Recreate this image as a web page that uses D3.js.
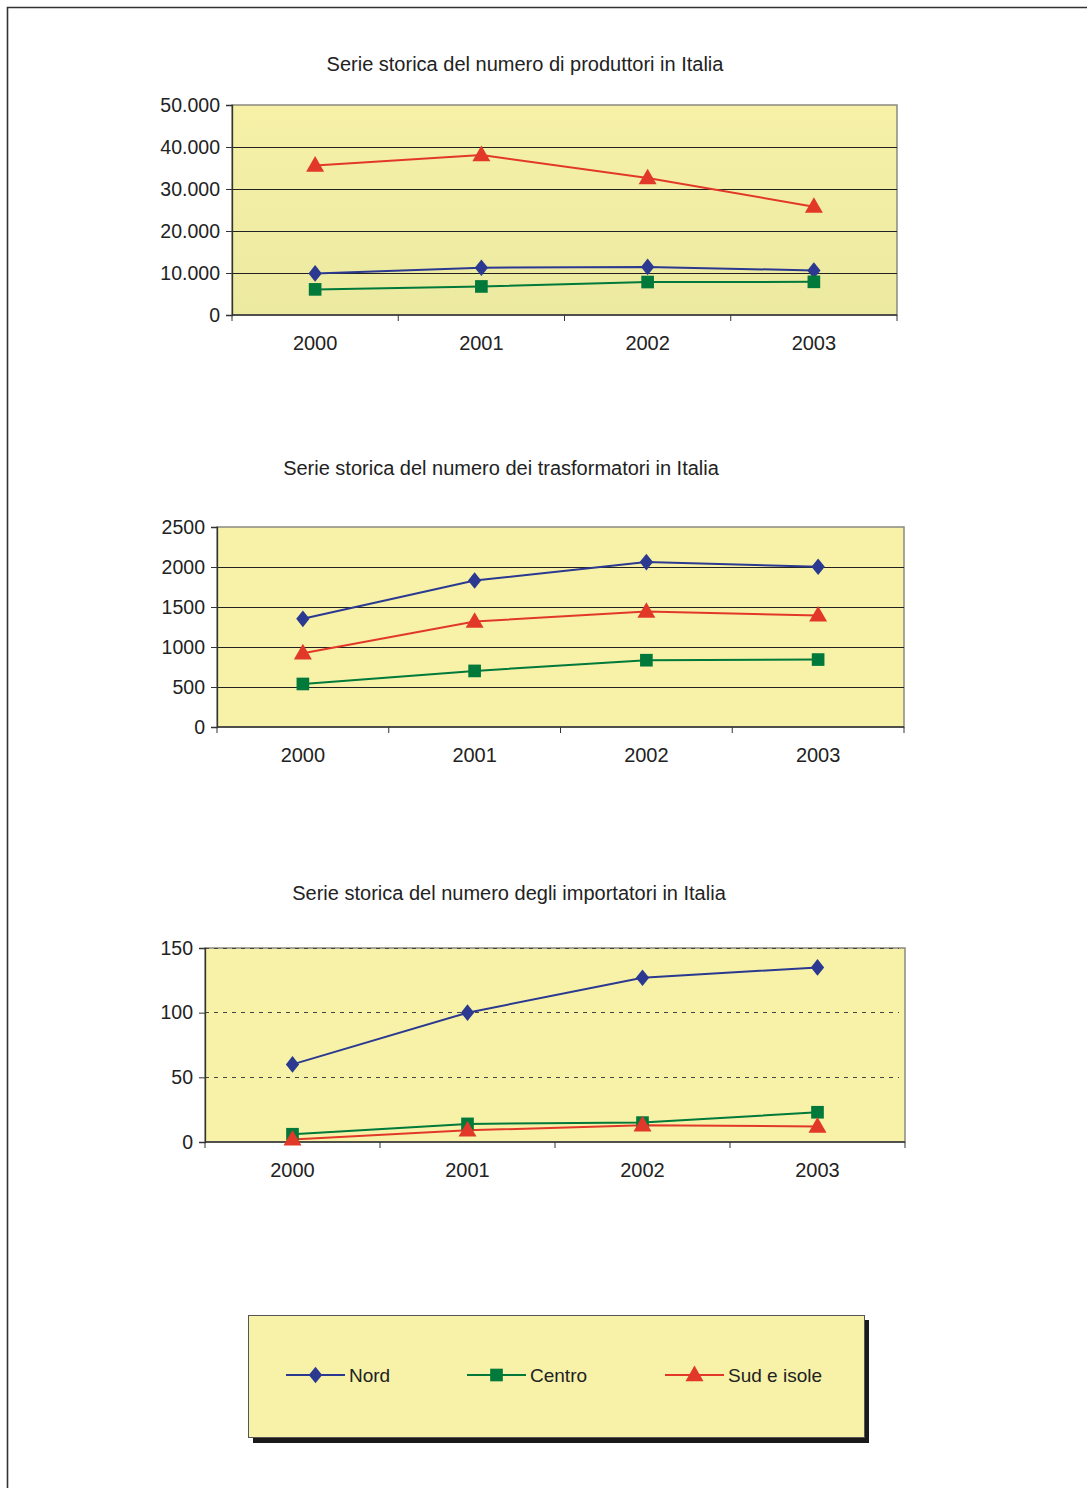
<!DOCTYPE html>
<html>
<head>
<meta charset="utf-8">
<script src="https://cdn.jsdelivr.net/npm/d3@7"></script>
<style>
  body { margin: 0; background: #fff; }
  svg { display: block; font-family: "Liberation Sans", Arial, sans-serif; }
</style>
</head>
<body>
<div id="chart"></div>
<script>
// data
var years = ["2000", "2001", "2002", "2003"];
var seriesNames = ["Nord", "Centro", "Sud e isole"];

var produttoriNord = [9900, 11250, 11450, 10600];
var produttoriCentro = [6100, 6800, 7850, 7900];
var produttoriSud = [35600, 38100, 32600, 25800];

var trasformatoriNord = [1352, 1831, 2061, 2003];
var trasformatoriCentro = [538, 701, 835, 843];
var trasformatoriSud = [922, 1318, 1443, 1395];

var importatoriNord = [60, 100, 127, 135];
var importatoriCentro = [6, 14, 15, 23];
var importatoriSud = [2, 9, 13, 12];

var titles = [
  "Serie storica del numero di produttori in Italia",
  "Serie storica del numero dei trasformatori in Italia",
  "Serie storica del numero degli importatori in Italia"
];
var yTicks1 = [0, 10000, 20000, 30000, 40000, 50000];
var yTicks2 = [0, 500, 1000, 1500, 2000, 2500];
var yTicks3 = [0, 50, 100, 150];

var colors = ["#2b3990", "#00793a", "#e2382a"];

// excel-like diamond: a bit wider than d3's built-in one
var wideDiamond = {
  draw: function(ctx, size) {
    var h = Math.sqrt(size) * 0.68, w = h * 0.8;
    ctx.moveTo(0, -h); ctx.lineTo(w, 0); ctx.lineTo(0, h); ctx.lineTo(-w, 0); ctx.closePath();
  }
};
var symbols = [wideDiamond, d3.symbolSquare, d3.symbolTriangle];
var symbolSizes = [150, 160, 140];

var it = d3.formatLocale({decimal: ",", thousands: ".", grouping: [3], currency: ["€", ""]});

var width = 1087, height = 1488;
var svg = d3.select("#chart").append("svg")
  .attr("width", width)
  .attr("height", height);

// page frame (top + left edges)
svg.append("path")
  .attr("d", "M7.5,1488 L7.5,7.5 L1087,7.5")
  .attr("fill", "none")
  .attr("stroke", "#333")
  .attr("stroke-width", 1.6);

var charts = [
  {title: titles[0], titleX: 525, titleY: 71, x0: 232, x1: 897, y0: 105, y1: 315,
   max: 50000, ticks: yTicks1, fmt: it.format(",d"), dashed: false,
   series: [produttoriNord, produttoriCentro, produttoriSud], gradient: true},
  {title: titles[1], titleX: 501, titleY: 475, x0: 217, x1: 904, y0: 527, y1: 727,
   max: 2500, ticks: yTicks2, fmt: d3.format("d"), dashed: false,
   series: [trasformatoriNord, trasformatoriCentro, trasformatoriSud]},
  {title: titles[2], titleX: 509, titleY: 900, x0: 205, x1: 905, y0: 948, y1: 1142,
   max: 150, ticks: yTicks3, fmt: d3.format("d"), dashed: true,
   series: [importatoriNord, importatoriCentro, importatoriSud]}
];

var defs = svg.append("defs");
var grad = defs.append("linearGradient").attr("id", "bg1")
  .attr("x1", 0).attr("y1", 0).attr("x2", 0).attr("y2", 1);
grad.append("stop").attr("offset", "0%").attr("stop-color", "#f6f1a7");
grad.append("stop").attr("offset", "100%").attr("stop-color", "#ece9a1");

function marker(s) {
  return d3.symbol().type(symbols[s]).size(symbolSizes[s]);
}

charts.forEach(function(c) {
  var g = svg.append("g");

  var x = d3.scaleBand().domain(years).range([c.x0, c.x1]);
  var y = d3.scaleLinear().domain([0, c.max]).range([c.y1, c.y0]);

  g.append("text")
    .attr("x", c.titleX).attr("y", c.titleY)
    .attr("text-anchor", "middle")
    .attr("font-size", 20)
    .attr("fill", "#222")
    .text(c.title);

  // plot background
  g.append("rect")
    .attr("x", c.x0).attr("y", c.y0)
    .attr("width", c.x1 - c.x0).attr("height", c.y1 - c.y0)
    .attr("fill", c.gradient ? "url(#bg1)" : "#f7f2a8")
    .attr("stroke", "#8a8a80")
    .attr("stroke-width", 1.5);

  // gridlines
  g.selectAll(".grid")
    .data(c.ticks.filter(function(t) { return t > 0 && (c.dashed || t < c.max); }))
    .enter().append("line")
    .attr("x1", c.x0).attr("x2", c.dashed ? c.x1 - 6 : c.x1)
    .attr("y1", function(d) { return y(d); })
    .attr("y2", function(d) { return y(d); })
    .attr("stroke", c.dashed ? "#444" : "#222")
    .attr("stroke-width", 1)
    .attr("shape-rendering", "crispEdges")
    .attr("stroke-dasharray", c.dashed ? "4,5" : null);

  // y axis
  var ya = g.append("g")
    .attr("transform", "translate(" + c.x0 + ",0)")
    .call(d3.axisLeft(y).tickValues(c.ticks).tickFormat(c.fmt).tickSize(6).tickPadding(6));
  ya.select(".domain").attr("stroke", "#333").attr("stroke-width", 1.3);
  ya.selectAll(".tick line").attr("stroke", "#333");
  ya.selectAll("text").attr("font-size", 19.5).attr("fill", "#222")
    .attr("font-family", "Liberation Sans, Arial, sans-serif");

  // x axis: ticks at category boundaries
  var xa = g.append("g")
    .attr("transform", "translate(0," + c.y1 + ")");
  xa.append("line")
    .attr("x1", c.x0).attr("x2", c.x1)
    .attr("stroke", "#333").attr("stroke-width", 1.3);
  var bounds = years.map(function(d) { return x(d); }).concat([c.x1]);
  xa.selectAll(".xt").data(bounds).enter().append("line")
    .attr("x1", function(d) { return d; }).attr("x2", function(d) { return d; })
    .attr("y1", 0).attr("y2", 6)
    .attr("stroke", "#333");
  xa.selectAll(".xl").data(years).enter().append("text")
    .attr("x", function(d) { return x(d) + x.bandwidth() / 2; })
    .attr("y", 35)
    .attr("text-anchor", "middle")
    .attr("font-size", 20)
    .attr("fill", "#222")
    .text(function(d) { return d; });

  // series
  var line = d3.line()
    .x(function(d, i) { return x(years[i]) + x.bandwidth() / 2; })
    .y(function(d) { return y(d); });

  c.series.forEach(function(vals, s) {
    g.append("path")
      .datum(vals)
      .attr("d", line)
      .attr("fill", "none")
      .attr("stroke", colors[s])
      .attr("stroke-width", 2);
  });
  c.series.forEach(function(vals, s) {
    g.selectAll(".m" + s).data(vals).enter().append("path")
      .attr("transform", function(d, i) {
        var yy = y(d) + (s === 2 ? 1 : 0);
        return "translate(" + (x(years[i]) + x.bandwidth() / 2) + "," + yy + ")";
      })
      .attr("d", marker(s))
      .attr("fill", colors[s]);
  });
});

// legend
var lg = svg.append("g");
lg.append("rect")
  .attr("x", 253).attr("y", 1320).attr("width", 616).attr("height", 123)
  .attr("fill", "#1a1a1a");
lg.append("rect")
  .attr("x", 248.5).attr("y", 1315.5).attr("width", 616).attr("height", 122)
  .attr("fill", "#f7f2a8")
  .attr("stroke", "#555").attr("stroke-width", 1);

var legendX = [286, 467, 665];
seriesNames.forEach(function(name, s) {
  var lx = legendX[s], ly = 1375;
  lg.append("line")
    .attr("x1", lx).attr("x2", lx + 59)
    .attr("y1", ly).attr("y2", ly)
    .attr("stroke", colors[s]).attr("stroke-width", 1.8);
  lg.append("path")
    .attr("transform", "translate(" + (lx + 29.5) + "," + (ly + (s === 2 ? 1 : 0)) + ")")
    .attr("d", marker(s))
    .attr("fill", colors[s]);
  lg.append("text")
    .attr("x", lx + 63).attr("y", ly + 7)
    .attr("font-size", 19)
    .attr("fill", "#222")
    .text(name);
});
</script>
</body>
</html>
